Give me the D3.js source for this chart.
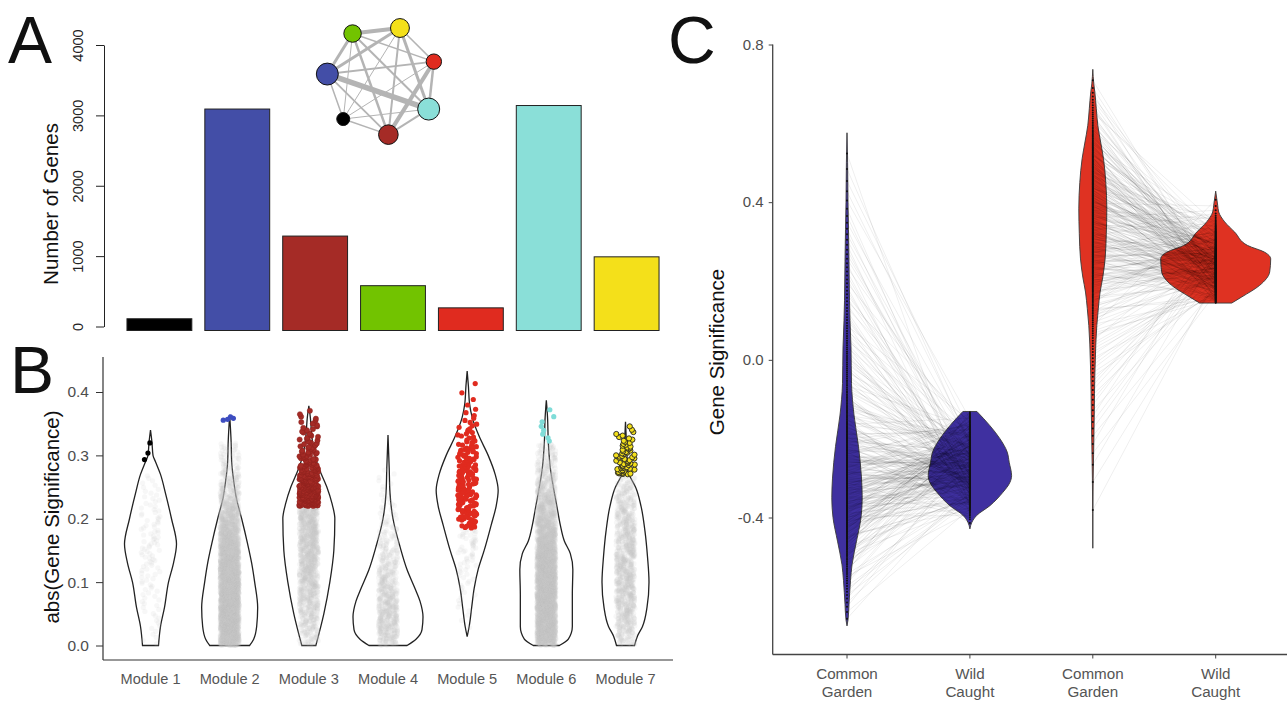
<!DOCTYPE html>
<html>
<head>
<meta charset="utf-8">
<script src="https://cdn.jsdelivr.net/npm/d3@7"></script>
<style>
  body { margin: 0; background: #fff; }
  text { font-family: "Liberation Sans", Arial, Helvetica, sans-serif; }
</style>
</head>
<body>
<svg id="chart" width="1287" height="702"></svg>
<script>
// ---------- data ----------
var modules = ["Module 1", "Module 2", "Module 3", "Module 4", "Module 5", "Module 6", "Module 7"];
var moduleNames = ["black", "blue", "brown", "green", "red", "turquoise", "yellow"];
var moduleColors = ["#000000", "#434ea7", "#a52b26", "#72c300", "#e02b1f", "#8adfd8", "#f4e01a"];
var geneCounts = [110, 3090, 1285, 580, 265, 3140, 990];
var countTicks = [0, 1000, 2000, 3000, 4000];

// module network: circular order + edge weights
var networkOrder = ["blue", "green", "yellow", "red", "turquoise", "brown", "black"];
var networkEdges = [
  ["blue", "turquoise", 5.5], ["green", "yellow", 4], ["red", "brown", 4],
  ["blue", "yellow", 3], ["blue", "green", 3], ["yellow", "turquoise", 3],
  ["green", "brown", 2.5], ["red", "turquoise", 2.5], ["blue", "red", 2],
  ["green", "turquoise", 2], ["yellow", "brown", 2], ["blue", "brown", 1.8],
  ["brown", "turquoise", 2], ["green", "red", 1.5], ["yellow", "red", 1.5],
  ["blue", "black", 1.5], ["black", "brown", 1.5], ["black", "turquoise", 1],
  ["black", "green", 1], ["black", "yellow", 1], ["black", "red", 1]
];

// panel B: abs(GS) violin density profiles [value, density]
var absTicks = [0, 0.1, 0.2, 0.3, 0.4];
var absShapes = [
  [[0, 8], [0.03, 10], [0.06, 14], [0.1, 18], [0.13, 23], [0.16, 26], [0.2, 21], [0.24, 15], [0.27, 10], [0.29, 5], [0.3, 2.5], [0.32, 1.5], [0.34, 0]],
  [[0, 20], [0.01, 24], [0.03, 27], [0.06, 28], [0.1, 25], [0.13, 22], [0.16, 18], [0.2, 12], [0.23, 7], [0.26, 4], [0.29, 2], [0.32, 1.5], [0.364, 0]],
  [[0, 7], [0.05, 15], [0.1, 21], [0.15, 25], [0.2, 26], [0.225, 23], [0.25, 18], [0.28, 10], [0.3, 6], [0.33, 3], [0.36, 1.5], [0.378, 0]],
  [[0, 19], [0.01, 28], [0.025, 34], [0.045, 35], [0.07, 32], [0.09, 27], [0.12, 19], [0.156, 12], [0.2, 5], [0.24, 2], [0.28, 1.2], [0.332, 0]],
  [[0.014, 0], [0.03, 2], [0.06, 4.5], [0.09, 7], [0.12, 11], [0.15, 17], [0.19, 24], [0.22, 29], [0.245, 31], [0.27, 28], [0.3, 21], [0.33, 12], [0.36, 5], [0.38, 2.5], [0.41, 1.2], [0.433, 0]],
  [[0, 13], [0.01, 22], [0.03, 26], [0.08, 26], [0.12, 26.5], [0.145, 24], [0.165, 18], [0.19, 14], [0.22, 10.5], [0.25, 7], [0.28, 4], [0.32, 2], [0.36, 1.2], [0.387, 0]],
  [[0, 9], [0.015, 12], [0.03, 17], [0.06, 21.5], [0.1, 23.5], [0.14, 22], [0.18, 19.5], [0.22, 15.5], [0.25, 10], [0.265, 5], [0.275, 2], [0.3, 1.5], [0.353, 0]]
];
var grayRanges = [[0, 0.27], [0, 0.32], [0, 0.22], [0, 0.28], [0.015, 0.185], [0, 0.32], [0, 0.27]];
var grayCounts = [107, 3086, 985, 580, 65, 3132, 920];
var hubRanges = [[0.29, 0.34], [0.355, 0.365], [0.22, 0.378], null, [0.185, 0.433], [0.32, 0.387], [0.27, 0.353]];
var hubCounts = [3, 4, 300, 0, 200, 8, 65];

// panel C: gene significance, common garden vs wild caught
var gsTicks = [-0.4, 0, 0.4, 0.8];
var groupLabels = [["Common", "Garden"], ["Wild", "Caught"], ["Common", "Garden"], ["Wild", "Caught"]];
var groupColors = ["#3f30a0", "#3f30a0", "#df3222", "#df3222"];
var gsShapes = [
  [[-0.675, 0], [-0.66, 1], [-0.62, 2], [-0.56, 3.5], [-0.52, 5], [-0.46, 9.5], [-0.4, 14], [-0.35, 15.2], [-0.3, 14.5], [-0.22, 11.5], [-0.14, 7], [-0.06, 4.5], [0.03, 4], [0.1, 3], [0.15, 2.5], [0.25, 2], [0.33, 1.5], [0.4, 1], [0.5, 0.6], [0.576, 0]],
  [[-0.429, 0], [-0.412, 2], [-0.395, 6.7], [-0.37, 20], [-0.336, 33], [-0.311, 40], [-0.294, 41.7], [-0.26, 39.3], [-0.234, 37.3], [-0.2, 30], [-0.167, 20], [-0.131, 7]],
  [[-0.478, 0], [-0.3, 0.4], [-0.24, 0.8], [-0.13, 1.5], [-0.04, 2], [0, 2.5], [0.04, 3], [0.087, 4], [0.13, 5.5], [0.172, 7.3], [0.21, 10], [0.256, 12.3], [0.32, 13.5], [0.383, 14], [0.45, 13], [0.51, 10.7], [0.55, 8], [0.595, 5], [0.637, 3.5], [0.68, 2], [0.7, 1], [0.737, 0]],
  [[0.144, 16], [0.159, 25.7], [0.189, 44], [0.223, 54], [0.256, 55], [0.273, 49], [0.29, 32], [0.324, 19], [0.35, 9], [0.375, 3], [0.392, 2], [0.428, 0]]
];
var genesPerModule = [300, 300];

// ---------- helpers ----------
function densityAt(shape, v) {
  if (v <= shape[0][0]) return shape[0][1];
  for (var k = 1; k < shape.length; k++) {
    if (v <= shape[k][0]) {
      var a = shape[k - 1], b = shape[k];
      var t = (v - a[0]) / (b[0] - a[0]);
      return a[1] + t * (b[1] - a[1]);
    }
  }
  return shape[shape.length - 1][1];
}
// values at evenly spaced quantiles of the profile (restricted to lo..hi)
function quantileValues(shape, lo, hi, n) {
  var steps = 500, grid = [], cum = [0], out = [];
  for (var s = 0; s <= steps; s++) grid.push(lo + (hi - lo) * s / steps);
  for (var s = 1; s <= steps; s++) cum.push(cum[s - 1] + (densityAt(shape, grid[s - 1]) + densityAt(shape, grid[s])) / 2);
  var total = cum[steps];
  for (var i = 0; i < n; i++) {
    var target = (i + 0.5) / n * total;
    var s = Math.max(1, Math.min(steps, d3.bisectLeft(cum, target)));
    var t = (target - cum[s - 1]) / ((cum[s] - cum[s - 1]) || 1);
    out.push(grid[s - 1] + t * (grid[s] - grid[s - 1]));
  }
  return out;
}
// fixed hash used only for horizontal jitter / drawing order
function hash01(i, seed) {
  var s = Math.sin(i * 127.1 + seed * 311.7) * 43758.5453;
  return s - Math.floor(s);
}
var fmt1 = function(d) { return d3.format(".1f")(d).replace("\u2212", "-"); };

var svg = d3.select("#chart");

// ---------- panel A ----------
var yA = d3.scaleLinear().domain([0, 4000]).range([326.5, 45]);
var xA = d3.scaleBand().domain(modules).range([120.5, 665.5]).paddingInner(0.167).paddingOuter(0.083);

svg.append("text").attr("x", 8).attr("y", 63).attr("font-size", 66).attr("fill", "#111").text("A");

var axA = svg.append("g").attr("transform", "translate(104,0)")
  .call(d3.axisLeft(yA).tickValues(countTicks).tickSize(8).tickSizeOuter(0).tickFormat(d3.format("d")));
axA.select(".domain").attr("stroke", "#222");
axA.selectAll(".tick line").attr("stroke", "#222");
axA.selectAll(".tick text")
  .attr("transform", "rotate(-90)")
  .attr("x", 0).attr("y", -26).attr("dy", "0.35em")
  .attr("text-anchor", "middle")
  .attr("font-size", 14.5).attr("fill", "#222")
  .attr("font-family", "Liberation Sans, Arial, sans-serif");

svg.append("text")
  .attr("transform", "translate(58,204) rotate(-90)")
  .attr("text-anchor", "middle").attr("font-size", 20.5).attr("fill", "#111")
  .text("Number of Genes");

svg.append("g").selectAll("rect").data(geneCounts).enter().append("rect")
  .attr("x", function(d, i) { return xA(modules[i]); })
  .attr("width", xA.bandwidth())
  .attr("y", function(d) { return yA(d); })
  .attr("height", function(d) { return yA(0) + 4 - yA(d); })
  .attr("fill", function(d, i) { return moduleColors[i]; })
  .attr("stroke", "#222").attr("stroke-width", 1);

// network inset
var netCx = 382, netCy = 80, netR = 55;
var nodeSize = d3.scaleLog().domain([110, 3140]).range([6.5, 11]);
var netNodes = networkOrder.map(function(name, i) {
  var a = (186.2 + i * 360 / 7) * Math.PI / 180;
  var m = moduleNames.indexOf(name);
  return { id: name, x: netCx + netR * Math.cos(a), y: netCy + netR * Math.sin(a), color: moduleColors[m], size: geneCounts[m] };
});
var nodeById = {};
netNodes.forEach(function(n) { nodeById[n.id] = n; });
var net = svg.append("g");
net.selectAll("line").data(networkEdges).enter().append("line")
  .attr("x1", function(d) { return nodeById[d[0]].x; })
  .attr("y1", function(d) { return nodeById[d[0]].y; })
  .attr("x2", function(d) { return nodeById[d[1]].x; })
  .attr("y2", function(d) { return nodeById[d[1]].y; })
  .attr("stroke", "#b4b4b4").attr("stroke-width", function(d) { return d[2]; });
net.selectAll("circle").data(netNodes).enter().append("circle")
  .attr("cx", function(d) { return d.x; }).attr("cy", function(d) { return d.y; })
  .attr("r", function(d) { return nodeSize(d.size); })
  .attr("fill", function(d) { return d.color; })
  .attr("stroke", "#111").attr("stroke-width", 1);

// ---------- panel B ----------
var yB = d3.scaleLinear().domain([0, 0.4]).range([645.5, 392]);
var xB = d3.scalePoint().domain(modules).range([150.5, 625.5]);
var wB = d3.scaleLinear().domain([0, 30]).range([0, 30]);

svg.append("text").attr("x", 10).attr("y", 393).attr("font-size", 66).attr("fill", "#111").text("B");

svg.append("line").attr("x1", 103).attr("x2", 103).attr("y1", 357).attr("y2", 660).attr("stroke", "#333").attr("stroke-width", 1.2);
svg.append("line").attr("x1", 103).attr("x2", 673).attr("y1", 660).attr("y2", 660).attr("stroke", "#333").attr("stroke-width", 1.2);
var axB = svg.append("g").attr("transform", "translate(103,0)")
  .call(d3.axisLeft(yB).tickValues(absTicks).tickSize(7).tickFormat(fmt1));
axB.select(".domain").remove();
axB.selectAll(".tick line").attr("stroke", "#333");
axB.selectAll(".tick text").attr("font-size", 15.5).attr("fill", "#4d4d4d").attr("x", -14)
  .attr("font-family", "Liberation Sans, Arial, sans-serif");

svg.append("text")
  .attr("transform", "translate(59,517) rotate(-90)")
  .attr("text-anchor", "middle").attr("font-size", 20.5).attr("fill", "#111")
  .text("abs(Gene Significance)");

svg.append("g").selectAll("text").data(modules).enter().append("text")
  .attr("x", function(d) { return xB(d); }).attr("y", 684)
  .attr("text-anchor", "middle").attr("font-size", 14.6).attr("fill", "#555")
  .text(function(d) { return d; });

var violinB = d3.area()
  .curve(d3.curveMonotoneY)
  .y(function(d) { return yB(d[0]); });

modules.forEach(function(m, i) {
  var cx = xB(m);
  var g = svg.append("g");
  g.append("path").datum(absShapes[i])
    .attr("d", violinB.x0(function(d) { return cx - wB(d[1]); }).x1(function(d) { return cx + wB(d[1]); }))
    .attr("fill", "none").attr("stroke", "#222").attr("stroke-width", 1.3);

  var grays = quantileValues(absShapes[i], grayRanges[i][0], grayRanges[i][1], grayCounts[i]);
  g.selectAll(".gpt").data(grays).enter().append("circle").attr("class", "gpt")
    .attr("cx", function(d, k) { return cx + (hash01(k, i + 1) - 0.5) * 19; })
    .attr("cy", function(d) { return yB(d); })
    .attr("r", 2.6).attr("fill", "#c4c4c4").attr("fill-opacity", 0.14);

  if (hubRanges[i]) {
    var hubs = quantileValues(absShapes[i], hubRanges[i][0], hubRanges[i][1], hubCounts[i]);
    g.selectAll(".hpt").data(hubs).enter().append("circle").attr("class", "hpt")
      .attr("cx", function(d, k) { return cx + (hash01(k, i + 11) - 0.5) * 19; })
      .attr("cy", function(d) { return yB(d); })
      .attr("r", 2.6)
      .attr("fill", i === 5 ? "#7fdcd8" : (i === 1 ? "#3d4dc0" : moduleColors[i]))
      .attr("stroke", i === 6 ? "#222" : (i === 2 ? "#8a211c" : "none"))
      .attr("stroke-width", i === 6 ? 0.9 : 0.5);
  }
});

// ---------- panel C ----------
var yC = d3.scaleLinear().domain([-0.4, 0.8]).range([517.5, 44.5]);
var xC = d3.scalePoint().domain(d3.range(4)).range([847, 1215.7]);

svg.append("text").attr("x", 668).attr("y", 63).attr("font-size", 66).attr("fill", "#111").text("C");

svg.append("line").attr("x1", 772.7).attr("x2", 772.7).attr("y1", 44.5).attr("y2", 654.5).attr("stroke", "#444").attr("stroke-width", 1.3);
svg.append("line").attr("x1", 772.7).attr("x2", 1287).attr("y1", 654.5).attr("y2", 654.5).attr("stroke", "#444").attr("stroke-width", 1.3);
var axC = svg.append("g").attr("transform", "translate(772.7,0)")
  .call(d3.axisLeft(yC).tickValues(gsTicks).tickSize(4).tickFormat(fmt1));
axC.select(".domain").remove();
axC.selectAll(".tick line").attr("stroke", "#444");
axC.selectAll(".tick text").attr("font-size", 15).attr("fill", "#4d4d4d").attr("x", -9)
  .attr("font-family", "Liberation Sans, Arial, sans-serif");

svg.append("g").selectAll("line").data(d3.range(4)).enter().append("line")
  .attr("x1", function(d) { return xC(d); }).attr("x2", function(d) { return xC(d); })
  .attr("y1", 654.5).attr("y2", 658.5).attr("stroke", "#444");

var glab = svg.append("g").selectAll("text").data(groupLabels).enter().append("text")
  .attr("text-anchor", "middle").attr("font-size", 15.2).attr("fill", "#555");
glab.append("tspan").attr("x", function(d, i) { return xC(i); }).attr("y", 679).text(function(d) { return d[0]; });
glab.append("tspan").attr("x", function(d, i) { return xC(i); }).attr("y", 697).text(function(d) { return d[1]; });

svg.append("text")
  .attr("transform", "translate(724,352) rotate(-90)")
  .attr("text-anchor", "middle").attr("font-size", 20.5).attr("fill", "#111")
  .text("Gene Significance");

var violinC = d3.area().curve(d3.curveMonotoneY).y(function(d) { return yC(d[0]); });
var wC = d3.scaleLinear().domain([0, 30]).range([0, 30]);
gsShapes.forEach(function(shape, i) {
  var cx = xC(i);
  svg.append("path").datum(shape)
    .attr("d", violinC.x0(function(d) { return cx - wC(d[1]); }).x1(function(d) { return cx + wC(d[1]); }))
    .attr("fill", groupColors[i]).attr("stroke", "#3a3a3a").attr("stroke-width", 0.9);
});

// paired lines: common garden -> wild caught for each gene
[0, 1].forEach(function(p) {
  var n = genesPerModule[p];
  var sa = gsShapes[2 * p], sb = gsShapes[2 * p + 1];
  var cg = quantileValues(sa, sa[0][0], sa[sa.length - 1][0], n);
  var wc = quantileValues(sb, sb[0][0], sb[sb.length - 1][0], n);
  var order = d3.range(n).sort(function(a, b) { return hash01(a, 40 + p) - hash01(b, 40 + p); });
  var pairs = cg.map(function(v, i) { return [v, wc[order[i]]]; });
  var x0 = xC(2 * p), x1 = xC(2 * p + 1);
  var g = svg.append("g");
  g.selectAll("line").data(pairs).enter().append("line")
    .attr("x1", x0).attr("x2", x1)
    .attr("y1", function(d) { return yC(d[0]); })
    .attr("y2", function(d) { return yC(d[1]); })
    .attr("stroke", "#000").attr("stroke-opacity", 0.085).attr("stroke-width", 0.8);
  g.selectAll(".a").data(cg).enter().append("circle").attr("class", "a")
    .attr("cx", x0).attr("cy", function(d) { return yC(d); }).attr("r", 1).attr("fill", "#111");
  g.selectAll(".b").data(wc).enter().append("circle").attr("class", "b")
    .attr("cx", x1).attr("cy", function(d) { return yC(d); }).attr("r", 1).attr("fill", "#111");
});
</script>
</body>
</html>
